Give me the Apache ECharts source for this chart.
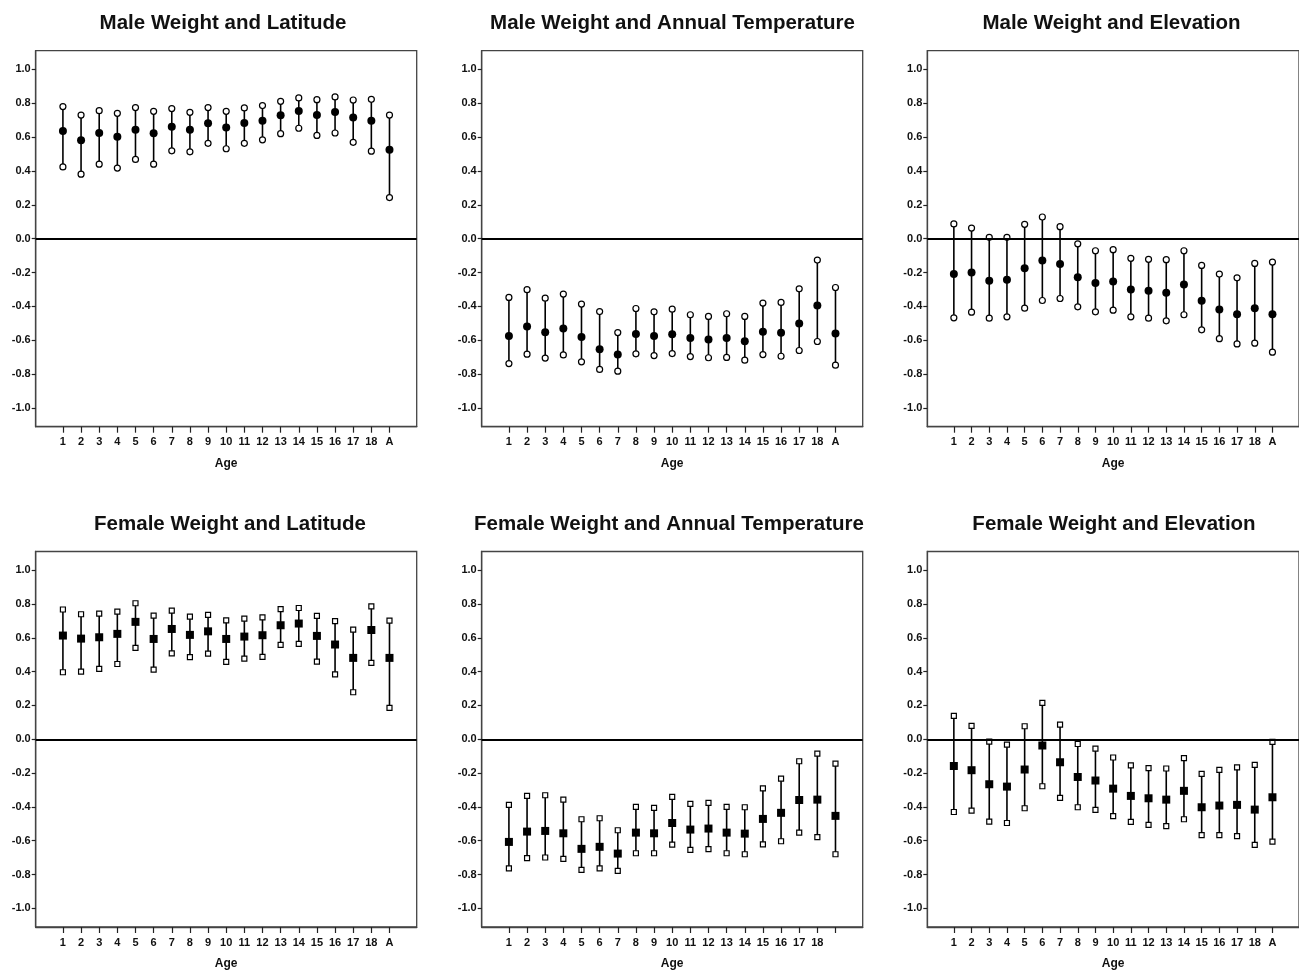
<!DOCTYPE html>
<html>
<head>
<meta charset="utf-8">
<script src="https://cdn.jsdelivr.net/npm/echarts@6/dist/echarts.min.js"></script>
<style>
  html, body { margin: 0; padding: 0; background: #fff; }
  #chart { width: 1299px; height: 971px; }
</style>
</head>
<body>
<div id="chart"></div>
<script>
  // age classes, A = adult
  var ageLabels = ['1','2','3','4','5','6','7','8','9','10','11','12','13','14','15','16','17','18','A'];
  var yTicks = [-1.0, -0.8, -0.6, -0.4, -0.2, 0, 0.2, 0.4, 0.6, 0.8, 1.0];

  // males: correlation estimate, lower and upper CI
  var maleLatEst = [0.636,0.582,0.624,0.602,0.644,0.622,0.661,0.644,0.681,0.657,0.683,0.697,0.729,0.754,0.731,0.748,0.715,0.697,0.525];
  var maleLatLo  = [0.424,0.381,0.440,0.417,0.468,0.440,0.519,0.513,0.563,0.531,0.563,0.584,0.620,0.652,0.610,0.624,0.569,0.517,0.243];
  var maleLatHi  = [0.780,0.730,0.756,0.740,0.774,0.752,0.768,0.746,0.774,0.752,0.772,0.786,0.811,0.831,0.821,0.837,0.819,0.823,0.730];

  var maleTempEst = [-0.575,-0.518,-0.552,-0.530,-0.581,-0.652,-0.684,-0.562,-0.575,-0.564,-0.587,-0.595,-0.587,-0.605,-0.550,-0.556,-0.500,-0.394,-0.560];
  var maleTempLo  = [-0.737,-0.682,-0.705,-0.686,-0.727,-0.772,-0.782,-0.680,-0.690,-0.678,-0.696,-0.703,-0.701,-0.717,-0.684,-0.694,-0.660,-0.607,-0.747];
  var maleTempHi  = [-0.347,-0.301,-0.351,-0.327,-0.386,-0.430,-0.554,-0.412,-0.432,-0.416,-0.449,-0.459,-0.443,-0.459,-0.380,-0.376,-0.296,-0.126,-0.288];

  var maleElevEst = [-0.209,-0.199,-0.248,-0.242,-0.175,-0.128,-0.150,-0.227,-0.262,-0.252,-0.300,-0.307,-0.319,-0.270,-0.367,-0.418,-0.446,-0.410,-0.446];
  var maleElevLo  = [-0.467,-0.434,-0.469,-0.461,-0.410,-0.365,-0.353,-0.402,-0.432,-0.422,-0.461,-0.469,-0.485,-0.449,-0.538,-0.590,-0.621,-0.617,-0.670];
  var maleElevHi  = [0.087,0.063,0.008,0.008,0.085,0.128,0.071,-0.030,-0.071,-0.065,-0.116,-0.122,-0.124,-0.071,-0.158,-0.209,-0.231,-0.146,-0.138];

  // females
  var femLatEst = [0.613,0.595,0.603,0.623,0.694,0.593,0.652,0.617,0.638,0.593,0.607,0.615,0.674,0.684,0.611,0.560,0.481,0.646,0.481];
  var femLatLo  = [0.396,0.400,0.416,0.445,0.540,0.412,0.508,0.485,0.506,0.457,0.477,0.487,0.558,0.564,0.459,0.384,0.278,0.451,0.185];
  var femLatHi  = [0.767,0.739,0.743,0.755,0.804,0.731,0.761,0.725,0.735,0.703,0.713,0.721,0.769,0.776,0.729,0.698,0.648,0.786,0.701];

  var femTempEst = [-0.607,-0.546,-0.542,-0.556,-0.648,-0.636,-0.676,-0.552,-0.556,-0.495,-0.534,-0.528,-0.552,-0.558,-0.471,-0.435,-0.359,-0.357,-0.453];
  var femTempLo  = [-0.763,-0.703,-0.699,-0.707,-0.772,-0.763,-0.778,-0.674,-0.674,-0.623,-0.654,-0.650,-0.674,-0.680,-0.621,-0.603,-0.552,-0.579,-0.680];
  var femTempHi  = [-0.388,-0.335,-0.331,-0.357,-0.473,-0.467,-0.538,-0.400,-0.406,-0.341,-0.382,-0.376,-0.400,-0.402,-0.290,-0.233,-0.130,-0.085,-0.144];

  var femElevEst = [-0.158,-0.183,-0.266,-0.280,-0.179,-0.037,-0.136,-0.223,-0.244,-0.292,-0.335,-0.349,-0.357,-0.305,-0.402,-0.392,-0.388,-0.416,-0.343];
  var femElevLo  = [-0.430,-0.422,-0.487,-0.495,-0.408,-0.278,-0.347,-0.402,-0.418,-0.455,-0.489,-0.506,-0.514,-0.473,-0.567,-0.567,-0.573,-0.625,-0.605];
  var femElevHi  = [0.138,0.079,-0.014,-0.032,0.077,0.215,0.087,-0.028,-0.055,-0.108,-0.154,-0.171,-0.173,-0.112,-0.205,-0.181,-0.166,-0.152,-0.016];

  var FONT = '"Liberation Sans", Arial, sans-serif';

  var panels = [
    {title:'Male Weight and Latitude', tx:223, ty:23, left:35.7, top:50.7, est:maleLatEst, lo:maleLatLo, hi:maleLatHi, female:false, labels:ageLabels},
    {title:'Male Weight and Annual Temperature', tx:672.5, ty:23, left:481.7, top:50.7, est:maleTempEst, lo:maleTempLo, hi:maleTempHi, female:false, labels:ageLabels},
    {title:'Male Weight and Elevation', tx:1111.5, ty:23, left:927.3, top:50.7, est:maleElevEst, lo:maleElevLo, hi:maleElevHi, female:false, labels:ageLabels},
    {title:'Female Weight and Latitude', tx:230, ty:524, left:35.7, top:551.5, est:femLatEst, lo:femLatLo, hi:femLatHi, female:true, labels:ageLabels},
    // the last label is missing in this panel of the original
    {title:'Female Weight and Annual Temperature', tx:669, ty:524, left:481.7, top:551.5, est:femTempEst, lo:femTempLo, hi:femTempHi, female:true, labels:ageLabels.slice(0, 18).concat([''])},
    {title:'Female Weight and Elevation', tx:1114, ty:524, left:927.3, top:551.5, est:femElevEst, lo:femElevLo, hi:femElevHi, female:true, labels:ageLabels}
  ];

  function renderBar(params, api) {
    var a = api.coord([api.value(0), api.value(1)]);
    var b = api.coord([api.value(0), api.value(2)]);
    return {
      type: 'line',
      shape: {x1: a[0], y1: a[1], x2: b[0], y2: b[1]},
      style: {stroke: '#000', lineWidth: 1.6}
    };
  }

  function showInner(i) { return i > 0 && i < 20; }

  var grids = [], xAxes = [], yAxes = [], series = [], graphics = [];

  panels.forEach(function (p, k) {
    graphics.push({
      type: 'text', x: p.tx, y: p.ty,
      style: {text: p.title, align: 'center', verticalAlign: 'middle', textAlign: 'center', textVerticalAlign: 'middle',
              fontFamily: FONT, fontSize: 20.5, fontWeight: 'bold', fill: '#111'}
    });
    grids.push({left: p.left, top: p.top, width: 381, height: 376, show: true, borderColor: '#444', borderWidth: 1.3, backgroundColor: '#fff'});
    xAxes.push({
      gridIndex: k, type: 'category', data: [''].concat(p.labels, ['']), boundaryGap: true,
      name: 'Age', nameLocation: 'middle', nameGap: 31,
      nameTextStyle: {fontFamily: FONT, fontSize: 12, fontWeight: 'bold', color: '#111'},
      axisLine: {show: true, onZero: false, lineStyle: {color: '#444', width: 1.3}},
      axisTick: {show: true, alignWithLabel: true, interval: showInner, length: 6, lineStyle: {color: '#222', width: 1.2}},
      axisLabel: {interval: showInner, margin: 10, fontFamily: FONT, fontSize: 11, fontWeight: 'bold', color: '#111'},
      splitLine: {show: false}
    });
    yAxes.push({
      gridIndex: k, type: 'value', min: -1.11, max: 1.11,
      axisLine: {show: true, lineStyle: {color: '#444', width: 1.3}},
      axisTick: {show: true, length: 4, customValues: yTicks, lineStyle: {color: '#222', width: 1.2}},
      axisLabel: {customValues: yTicks, margin: 5, fontFamily: FONT, fontSize: 11, fontWeight: 'bold', color: '#111',
                  formatter: function (v) { return v.toFixed(1); }},
      splitLine: {show: false}
    });

    var bars = [], lows = [], highs = [], ests = [];
    for (var i = 0; i < p.est.length; i++) {
      bars.push([i + 1, p.lo[i], p.hi[i]]);
      lows.push([i + 1, p.lo[i]]);
      highs.push([i + 1, p.hi[i]]);
      ests.push([i + 1, p.est[i]]);
    }
    var openSym = p.female ? 'rect' : 'circle';
    series.push({
      type: 'custom', xAxisIndex: k, yAxisIndex: k, renderItem: renderBar, data: bars,
      encode: {x: 0, y: [1, 2]}, silent: true, z: 2
    });
    series.push({
      type: 'scatter', xAxisIndex: k, yAxisIndex: k, data: lows.concat(highs), symbol: openSym,
      symbolSize: p.female ? 5 : 6, silent: true, z: 3,
      itemStyle: {color: '#fff', borderColor: '#000', borderWidth: 1.2, opacity: 1}
    });
    series.push({
      type: 'scatter', xAxisIndex: k, yAxisIndex: k, data: ests, symbol: p.female ? 'rect' : 'circle',
      symbolSize: 8, silent: true, z: 4,
      itemStyle: {color: '#000', opacity: 1},
      markLine: {
        silent: true, symbol: ['none', 'none'], label: {show: false},
        lineStyle: {color: '#000', width: 2, type: 'solid'},
        data: [{yAxis: 0}]
      }
    });
  });

  var chart = echarts.init(document.getElementById('chart'));
  chart.setOption({
    animation: false,
    backgroundColor: '#fff',
    graphic: graphics,
    grid: grids,
    xAxis: xAxes,
    yAxis: yAxes,
    series: series
  });
</script>
</body>
</html>
